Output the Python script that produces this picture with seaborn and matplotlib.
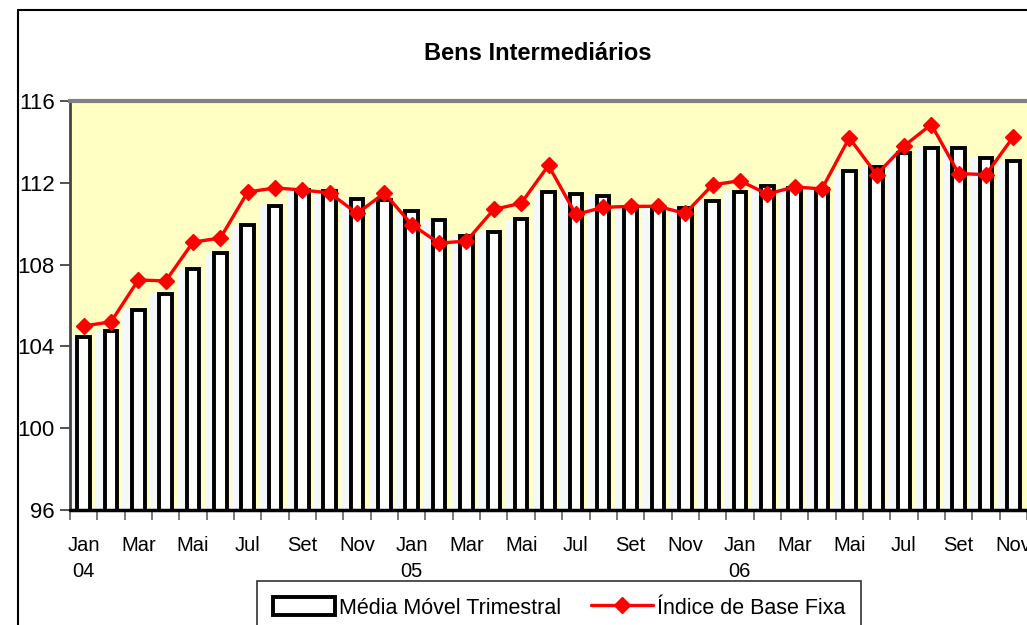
import numpy as np
import pandas as pd
import seaborn as sns
import matplotlib.pyplot as plt
from matplotlib.patches import Patch
from matplotlib.lines import Line2D

# monthly data, Jan 2004 - Nov 2006
months = ["Jan", "Fev", "Mar", "Abr", "Mai", "Jun", "Jul", "Ago", "Set", "Out", "Nov", "Dez"] * 2 + \
         ["Jan", "Fev", "Mar", "Abr", "Mai", "Jun", "Jul", "Ago", "Set", "Out", "Nov"]
years = ["04"] * 12 + ["05"] * 12 + ["06"] * 11

media_movel = [104.45, 104.75, 105.8, 106.55, 107.8, 108.55, 109.95, 110.85, 111.65, 111.6,
               111.2, 111.15, 110.6, 110.2, 109.4, 109.6, 110.25, 111.55, 111.45, 111.35,
               110.8, 110.8, 110.75, 111.1, 111.55, 111.85, 111.75, 111.7, 112.6, 112.75,
               113.45, 113.7, 113.7, 113.2, 113.05]
indice_base = [105.0, 105.2, 107.25, 107.2, 109.1, 109.3, 111.55, 111.75, 111.65, 111.5,
               110.5, 111.5, 109.95, 109.05, 109.15, 110.7, 111.0, 112.85, 110.45, 110.8,
               110.85, 110.85, 110.5, 111.9, 112.1, 111.45, 111.8, 111.7, 114.2, 112.4,
               113.8, 114.85, 112.45, 112.4, 114.25]

yticks = [96, 100, 104, 108, 112, 116]

df = pd.DataFrame({"idx": np.arange(len(months)), "mes": months, "ano": years,
                   "media": media_movel, "indice": indice_base})

sns.set_style("white")
plt.rcParams["font.family"] = ["Liberation Sans", "DejaVu Sans"]
plt.rcParams["text.color"] = "black"
plt.rcParams["xtick.labelcolor"] = "black"
plt.rcParams["ytick.labelcolor"] = "black"

fig = plt.figure(figsize=(10.27, 6.25), dpi=100)
ax = fig.add_axes([70 / 1027, 1 - 510 / 625, 957 / 1027, 409 / 625])
ax.set_facecolor("#FFFFC4")

# pale glossy band behind each bar
ax.bar(df["idx"] - 0.18, df["media"], width=0.8, color="#F4F8FA", edgecolor="none", zorder=1)
sns.barplot(data=df, x="idx", y="media", native_scale=True, width=0.46, color="white",
            edgecolor="black", linewidth=2.8, saturation=1, ax=ax, zorder=2)
ax.plot(df["idx"], df["indice"], color="#FF0000", lw=2.4, marker="D", markersize=8,
        markeredgecolor="#FF0000", zorder=4, clip_on=False)

ax.set_xlim(-0.5, len(months) - 0.5)
ax.set_ylim(96, 116)
ax.set_yticks(yticks)
ax.set_yticklabels([str(v) for v in yticks], fontsize=16)
ax.tick_params(axis="y", length=7, width=1.2, color="#333333", pad=4, left=True)

lab_pos = df["idx"][::2]
labels = [m + ("\n" + a if m == "Jan" else "") for m, a in zip(df["mes"][::2], df["ano"][::2])]
ax.set_xticks(lab_pos)
ax.set_xticklabels(labels, fontsize=14.5, va="top", linespacing=1.45)
ax.set_xticks(np.arange(-0.5, len(months), 1), minor=True)
ax.tick_params(axis="x", which="major", length=0, pad=19)
ax.tick_params(axis="x", which="minor", length=7, width=1.1, color="#555555", bottom=True)
ax.set_xlabel("")
ax.set_ylabel("")

for side in ["right", "bottom"]:
    ax.spines[side].set_visible(False)
ax.spines["top"].set_color("#808080")
ax.spines["top"].set_linewidth(3)
ax.spines["left"].set_color("#444444")
ax.spines["left"].set_linewidth(2)
ax.axhline(96, color="black", lw=2.5, zorder=5, clip_on=False)

fig.text(538 / 1027, 1 - 53 / 625, "Bens Intermediários", ha="center", va="center",
         fontsize=17, fontweight="bold")

# outer chart border
fig.add_artist(Line2D([18 / 1027, 18 / 1027], [0, 1 - 10 / 625], color="black", lw=1.5))
fig.add_artist(Line2D([18 / 1027, 1], [1 - 10 / 625, 1 - 10 / 625], color="black", lw=1.5))

handles = [Patch(facecolor="white", edgecolor="black", linewidth=2.8),
           Line2D([], [], color="#FF0000", lw=2.4, marker="D", markersize=8)]
leg = fig.legend(handles, ["Média Móvel Trimestral", "Índice de Base Fixa"], loc="upper center",
                 bbox_to_anchor=(559 / 1027, 1 - 581 / 625), ncol=2, fontsize=15.5,
                 frameon=True, fancybox=False, edgecolor="black", handlelength=2.9,
                 handleheight=0.9, handletextpad=0.15, columnspacing=1.4, borderpad=0.75,
                 borderaxespad=0)
leg.get_frame().set_linewidth(1.2)

fig.savefig("out.png", dpi=100)
